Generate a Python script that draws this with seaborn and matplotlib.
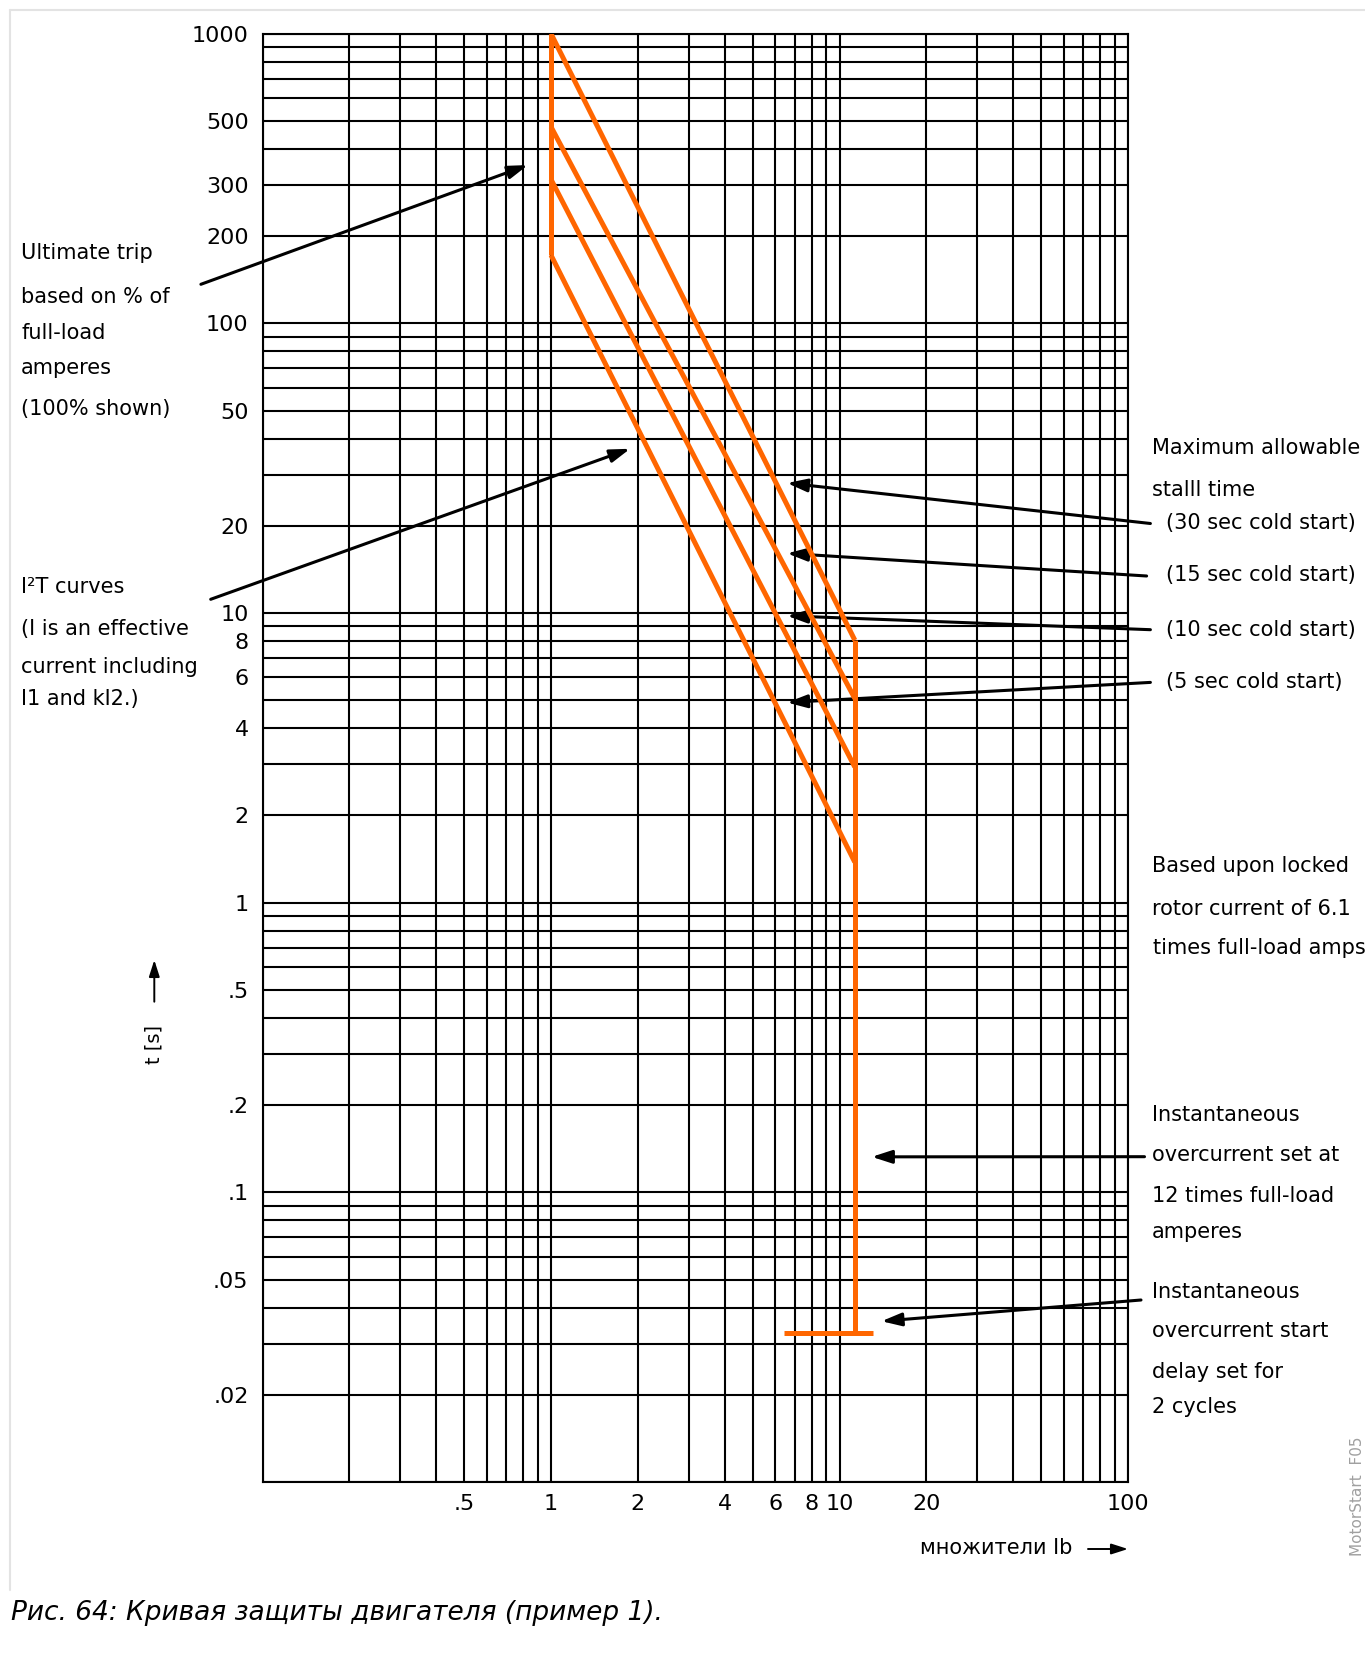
#!/usr/bin/env python3
"""
Motor protection curve (example 1), log-log time/current chart
"""

import matplotlib
matplotlib.use('Agg')

import matplotlib.pyplot as plt
import matplotlib.ticker as mticker
from matplotlib.lines import Line2D
from matplotlib.patches import FancyArrowPatch
import seaborn as sns
import pandas as pd
import numpy as np

W, H = 1365, 1657
ORANGE = '#FF6600'

# I2T curves: start at 1 x Ib, end at the instantaneous overcurrent line
curve_names = ['30 s', '15 s', '10 s', '5 s']
curve_start_x = [1.0, 1.0, 1.0, 1.0]
curve_start_t = [1000, 477, 314, 172]
curve_end_x = [11.3, 11.3, 11.3, 11.3]
curve_end_t = [8.06, 5.07, 2.94, 1.38]

# instantaneous overcurrent (vertical) and start delay (horizontal bar)
inst_x = 11.3
inst_t_top = 8.06
inst_t_bottom = 0.0327
delay_x = [6.4, 13.1]
delay_t = 0.0327

# axis ticks
y_ticks = [1000, 500, 300, 200, 100, 50, 20, 10, 8, 6, 4, 2, 1, .5, .2, .1, .05, .02]
y_labels = ['1000', '500', '300', '200', '100', '50', '20', '10', '8', '6', '4',
            '2', '1', '.5', '.2', '.1', '.05', '.02']
x_ticks = [.5, 1, 2, 4, 6, 8, 10, 20, 100]
x_labels = ['.5', '1', '2', '4', '6', '8', '10', '20', '100']

# arrow tips (data coords) for the annotations
tip_ultimate = (0.832, 352)
tip_i2t = (1.88, 36.9)
tip_stall_x = 6.58
tip_stall_t = [28.1, 16.07, 9.78, 4.91]
tip_inst = (12.94, 0.1326)
tip_delay = (13.98, 0.0359)


def fpos(x, y):
    """pixel position (from top-left) -> figure fraction"""
    return x / W, 1 - y / H


sns.set_style('white')
plt.rcParams['font.family'] = ['DejaVu Sans']
plt.rcParams['text.color'] = 'black'
plt.rcParams['xtick.color'] = 'black'
plt.rcParams['ytick.color'] = 'black'

fig = plt.figure(figsize=(W / 100, H / 100), dpi=100)
ax = fig.add_axes([262.5 / W, 1 - 1482 / H, (1128 - 262.5) / W, (1482 - 33.7) / H])
ax.set_xscale('log')
ax.set_yscale('log')

# build line segments for seaborn
rows = []
rows += [dict(seg='left', x=1.0, t=curve_start_t[-1]), dict(seg='left', x=1.0, t=curve_start_t[0])]
for name, x0, t0, x1, t1 in zip(curve_names, curve_start_x, curve_start_t, curve_end_x, curve_end_t):
    rows += [dict(seg=name, x=x0, t=t0), dict(seg=name, x=x1, t=t1)]
rows += [dict(seg='inst', x=inst_x, t=inst_t_top), dict(seg='inst', x=inst_x, t=inst_t_bottom)]
rows += [dict(seg='delay', x=delay_x[0], t=delay_t), dict(seg='delay', x=delay_x[1], t=delay_t)]
df = pd.DataFrame(rows)

sns.lineplot(data=df, x='x', y='t', units='seg', estimator=None, sort=False,
             color=ORANGE, linewidth=3.6, ax=ax, zorder=5,
             solid_capstyle='butt')

ax.set_xlim(0.1, 100)
ax.set_ylim(0.01, 1000)

ax.xaxis.set_major_locator(mticker.FixedLocator(x_ticks))
ax.xaxis.set_major_formatter(mticker.FixedFormatter(x_labels))
ax.yaxis.set_major_locator(mticker.FixedLocator(y_ticks))
ax.yaxis.set_major_formatter(mticker.FixedFormatter(y_labels))
for axis in (ax.xaxis, ax.yaxis):
    axis.set_minor_locator(mticker.LogLocator(base=10, subs=np.arange(1, 10), numticks=20))
    axis.set_minor_formatter(mticker.NullFormatter())

ax.grid(True, which='both', color='black', linewidth=1.5)
ax.tick_params(which='both', length=0, labelsize=16, labelcolor='black')
ax.tick_params(axis='y', pad=10)
ax.tick_params(axis='x', pad=9)
ax.set_xlabel('')
ax.set_ylabel('')
for sp in ax.spines.values():
    sp.set_color('black')
    sp.set_linewidth(1.5)

arrow_kw = dict(arrowstyle='-|>,head_length=0.4,head_width=0.13', color='black',
                lw=2.2, mutation_scale=30, shrinkA=0, shrinkB=0)

# left annotations
ax.annotate('', xy=tip_ultimate, xycoords='data', xytext=fpos(200.9, 284.3),
            textcoords='figure fraction', arrowprops=arrow_kw)
ax.annotate('', xy=tip_i2t, xycoords='data', xytext=fpos(210.7, 599.3),
            textcoords='figure fraction', arrowprops=arrow_kw)

left_lines = [('Ultimate trip', 253.3), ('based on % of', 296.7), ('full-load', 333.3),
              ('amperes', 368.3), ('(100% shown)', 409.3),
              ('I²T curves', 586.7), ('(I is an effective', 629), ('current including', 666.7),
              ('I1 and kI2.)', 699.3)]
for txt, y in left_lines:
    fig.text(*fpos(21, y), txt, fontsize=15, ha='left', va='center')

# right annotations: stall time arrows
stall_tails = [(1150.4, 523.5), (1146.6, 576), (1150.4, 629.7), (1150.4, 682.4)]
for t, tail in zip(tip_stall_t, stall_tails):
    ax.annotate('', xy=(tip_stall_x, t), xycoords='data', xytext=fpos(*tail),
                textcoords='figure fraction', arrowprops=arrow_kw)

right_lines = [('Maximum allowable', 1151.7, 448.4), ('stalll time', 1151.7, 490.5),
               ('(30 sec cold start)', 1166.5, 522.8), ('(15 sec cold start)', 1166.5, 574.7),
               ('(10 sec cold start)', 1166.5, 630.4), ('(5 sec cold start)', 1166.5, 682.4),
               ('Based upon locked', 1151.7, 866.5), ('rotor current of 6.1', 1151.7, 908.6),
               ('times full-load amps', 1153, 948.5),
               ('Instantaneous', 1151.7, 1115), ('overcurrent set at', 1151.7, 1155),
               ('12 times full-load', 1152.5, 1195.7), ('amperes', 1151.7, 1231.7),
               ('Instantaneous', 1151.7, 1291.7), ('overcurrent start', 1151.7, 1330.7),
               ('delay set for', 1151.7, 1371.7), ('2 cycles', 1151.7, 1407.3)]
for txt, x, y in right_lines:
    fig.text(*fpos(x, y), txt, fontsize=15, ha='left', va='center')

ax.annotate('', xy=tip_inst, xycoords='data', xytext=fpos(1144.5, 1156.7),
            textcoords='figure fraction', arrowprops=arrow_kw)
ax.annotate('', xy=tip_delay, xycoords='data', xytext=fpos(1141, 1300),
            textcoords='figure fraction', arrowprops=arrow_kw)

# axis titles with arrows
fig.text(*fpos(154.3, 1044), 't [s]', fontsize=14, rotation=90, ha='center', va='center')
fig.add_artist(FancyArrowPatch(fpos(154.3, 1001.7), fpos(154.3, 960), transform=fig.transFigure,
                               arrowstyle='-|>,head_length=0.5,head_width=0.16', mutation_scale=20,
                               color='black', lw=1.4, shrinkA=0, shrinkB=0))
fig.text(*fpos(996, 1548.3), 'множители Ib', fontsize=15, ha='center', va='center')
fig.add_artist(FancyArrowPatch(fpos(1088, 1549), fpos(1128, 1549), transform=fig.transFigure,
                               arrowstyle='-|>,head_length=0.5,head_width=0.16', mutation_scale=20,
                               color='black', lw=1.4, shrinkA=0, shrinkB=0))

# side code and caption
fig.text(*fpos(1357.5, 1496), 'MotorStart  F05', fontsize=11, color='#a0a0a0',
         rotation=90, ha='center', va='center')
fig.text(*fpos(11, 1613), 'Рис. 64: Кривая защиты двигателя (пример 1).', fontsize=19,
         style='italic', ha='left', va='center')

# light page border (top and left)
fig.add_artist(Line2D([10 / W, 1.0], [1 - 10 / H, 1 - 10 / H], transform=fig.transFigure,
                      color='#e3e3e3', lw=1.5))
fig.add_artist(Line2D([10 / W, 10 / W], [1 - 10 / H, 1 - 1590 / H], transform=fig.transFigure,
                      color='#e3e3e3', lw=1.5))

fig.savefig('out.png', dpi=100)
plt.close(fig)
